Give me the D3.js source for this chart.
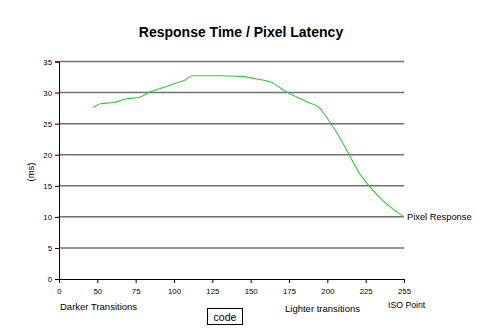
<!DOCTYPE html>
<html>
<head>
<meta charset="utf-8">
<script src="https://cdn.jsdelivr.net/npm/d3@7"></script>
<style>
  html, body { margin: 0; padding: 0; background: #fff; }
  svg { display: block; font-family: Arial, "Liberation Sans", sans-serif; }
</style>
</head>
<body>
<svg id="chart" width="500" height="334"></svg>
<script>
// Axis tick labels along the grey-level code axis (evenly spaced categories)
const xTicks = [0, 50, 75, 100, 125, 150, 175, 200, 225, 255];
const yTicks = [0, 5, 10, 15, 20, 25, 30, 35];

// Pixel response curve: grey-level code vs response time (ms)
const codes = [45, 52, 61, 69, 77, 84, 93, 101, 107, 112, 130, 143, 156, 163, 174, 187, 195, 202, 207, 214, 221, 228, 238, 255];
const times = [27.6, 28.2, 28.4, 29.0, 29.2, 30.1, 30.8, 31.5, 32.0, 32.7, 32.7, 32.6, 32.1, 31.7, 30.0, 28.5, 27.5, 25.1, 23.2, 20.1, 17.0, 14.9, 12.7, 10.0];

const svg = d3.select("#chart");
const plotLeft = 59, plotRight = 404, plotTop = 61.5, plotBottom = 279;

// Tick labels sit at evenly spaced positions; data between them is placed piecewise
const step = (plotRight - plotLeft) / (xTicks.length - 1);
const x = d3.scaleLinear()
  .domain(xTicks)
  .range(xTicks.map((d, i) => plotLeft + i * step));
const y = d3.scaleLinear().domain([0, 35]).range([plotBottom, plotTop]);

// Title
svg.append("text")
  .attr("x", 241).attr("y", 37)
  .attr("text-anchor", "middle")
  .attr("font-size", 14).attr("font-weight", "bold")
  .text("Response Time / Pixel Latency");

// Horizontal gridlines
svg.append("g").selectAll("line")
  .data(yTicks.filter(d => d > 0))
  .join("line")
  .attr("x1", plotLeft).attr("x2", plotRight)
  .attr("y1", d => y(d)).attr("y2", d => y(d))
  .attr("stroke", "#707070").attr("stroke-width", 1.5);

// Y axis
const yAxis = svg.append("g")
  .attr("transform", `translate(${plotLeft},0)`)
  .call(d3.axisLeft(y).tickValues(yTicks).tickSize(4).tickPadding(3));
yAxis.select(".domain").attr("stroke", "#000");
yAxis.selectAll("text").attr("font-size", 7.8).attr("font-family", "Arial, 'Liberation Sans', sans-serif");

// X axis
const xAxis = svg.append("g")
  .attr("transform", `translate(0,${plotBottom})`)
  .call(d3.axisBottom(x).tickValues(xTicks).tickSize(4).tickPadding(5));
xAxis.select(".domain").attr("stroke", "#000");
xAxis.selectAll("text").attr("font-size", 7.8).attr("font-family", "Arial, 'Liberation Sans', sans-serif");

// Response curve
svg.append("path")
  .datum(codes.map((c, i) => [c, times[i]]))
  .attr("fill", "none")
  .attr("stroke", "#33cc33")
  .attr("stroke-width", 1.1)
  .attr("d", d3.line().x(d => x(d[0])).y(d => y(d[1])).curve(d3.curveMonotoneX));

// Series label at the end of the curve
svg.append("text")
  .attr("x", x(255) + 3).attr("y", y(times[times.length - 1]) + 3)
  .attr("font-size", 9.3)
  .text("Pixel Response");

// Y axis title
svg.append("text")
  .attr("transform", "translate(34,172) rotate(-90)")
  .attr("text-anchor", "middle")
  .attr("font-size", 9.5)
  .text("(ms)");

// Range annotations below the axis
svg.append("text").attr("x", 60).attr("y", 310).attr("font-size", 9.5).text("Darker Transitions");
svg.append("text").attr("x", 285).attr("y", 312).attr("font-size", 9.5).text("Lighter transitions");
svg.append("text").attr("x", 388).attr("y", 307.5).attr("font-size", 8.7).text("ISO Point");

// Boxed axis caption
svg.append("rect")
  .attr("x", 207.5).attr("y", 308.5).attr("width", 35).attr("height", 16)
  .attr("fill", "#fff").attr("stroke", "#000").attr("stroke-width", 1);
svg.append("text")
  .attr("x", 225).attr("y", 320.5)
  .attr("text-anchor", "middle")
  .attr("font-size", 10.5)
  .text("code");
</script>
</body>
</html>
